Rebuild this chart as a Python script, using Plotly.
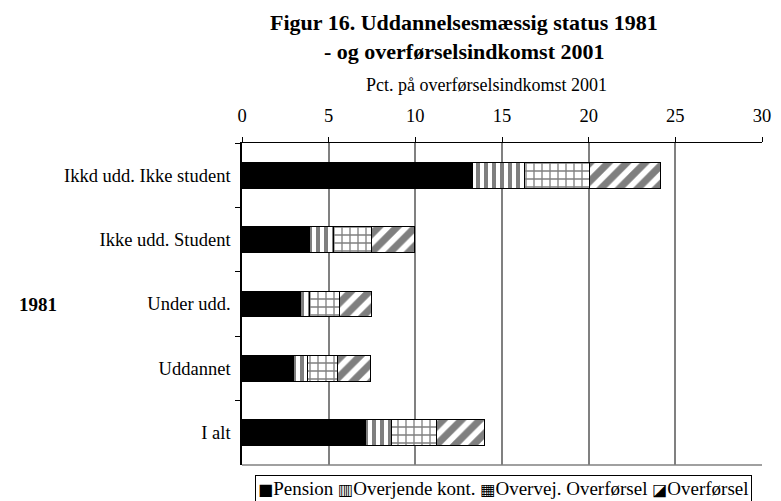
import plotly.graph_objects as go

# Data (pct. on transfer income 2001)
categories = [
    "Ikkd udd. Ikke student",
    "Ikke udd. Student",
    "Under udd.",
    "Uddannet",
    "I alt",
]
pension = [13.3, 3.9, 3.35, 2.95, 7.1]
overjende_kont = [3.0, 1.4, 0.55, 0.85, 1.55]
overvej_overfoersel = [3.75, 2.15, 1.7, 1.7, 2.55]
overfoersel = [4.1, 2.5, 1.85, 1.9, 2.8]

x_ticks = [0, 5, 10, 15, 20, 25, 30]

FONT = "Liberation Serif, Times New Roman, serif"
SYMFONT = "DejaVu Sans"

series = [
    ("Pension", "■", pension, dict(color="black")),
    ("Overjende kont.", "▥", overjende_kont,
     dict(color="white", pattern=dict(shape="|", fgcolor="black", bgcolor="white", size=8, solidity=0.5))),
    ("Overvej. Overførsel", "▦", overvej_overfoersel,
     dict(color="white", pattern=dict(shape="+", fgcolor="black", bgcolor="white", size=8, solidity=0.3))),
    ("Overførsel", "◪", overfoersel,
     dict(color="white", pattern=dict(shape="/", fgcolor="black", bgcolor="white", size=13, solidity=0.55))),
]

fig = go.Figure()
for name, _, vals, marker in series:
    fig.add_trace(
        go.Bar(
            y=categories,
            x=vals,
            name=name,
            orientation="h",
            width=0.4,
            marker=dict(**marker, line=dict(color="black", width=1)),
        )
    )

PX = 529  # plot width in px
PY = 322  # plot height in px

fig.update_layout(
    barmode="stack",
    width=781,
    height=501,
    margin=dict(l=242, r=10, t=143, b=36),
    plot_bgcolor="white",
    paper_bgcolor="white",
    font=dict(family=FONT, size=18.5, color="black"),
    showlegend=False,
    xaxis=dict(
        side="top",
        range=[0, 30],
        tickvals=x_ticks,
        showgrid=True,
        gridcolor="#808080",
        gridwidth=1.5,
        showline=True,
        linecolor="black",
        linewidth=1,
        ticks="outside",
        ticklen=5,
        tickcolor="black",
        ticklabelstandoff=8,
        zeroline=False,
        fixedrange=True,
    ),
    yaxis=dict(
        categoryorder="array",
        categoryarray=categories,
        autorange="reversed",
        showline=True,
        linecolor="black",
        linewidth=1.5,
        ticks="outside",
        tickson="boundaries",
        ticklen=5,
        tickcolor="black",
        ticklabelstandoff=6,
        showgrid=False,
        fixedrange=True,
    ),
)

# bottom border line of plot area
fig.add_shape(type="line", xref="x", yref="paper", x0=0, x1=30, y0=0, y1=0,
              line=dict(color="#808080", width=1.5))

fig.add_annotation(text="<b>Figur 16. Uddannelsesmæssig status 1981</b>",
                   xref="paper", yref="paper", x=(468 - 242) / PX, y=1 + (143 - 23) / PY,
                   showarrow=False, font=dict(size=22), xanchor="center", yanchor="middle")
fig.add_annotation(text="<b>- og overførselsindkomst 2001</b>",
                   xref="paper", yref="paper", x=(468 - 242) / PX, y=1 + (143 - 51) / PY,
                   showarrow=False, font=dict(size=22), xanchor="center", yanchor="middle")
fig.add_annotation(text="Pct. på overførselsindkomst 2001",
                   xref="paper", yref="paper", x=(491 - 242) / PX, y=1 + (143 - 85) / PY,
                   showarrow=False, font=dict(size=18), xanchor="center", yanchor="middle")
fig.add_annotation(text="<b>1981</b>",
                   xref="paper", yref="paper", x=(34 - 242) / PX, y=(465 - 304) / PY,
                   showarrow=False, font=dict(size=19), xanchor="center", yanchor="middle")

# legend drawn as a boxed line of text with pattern symbols
legend_text = " ".join(
    f"<span style='font-family:{SYMFONT};font-size:16px'>{sym}</span>{name}"
    for name, sym, _, _ in series
)
fig.add_annotation(text=legend_text,
                   xref="paper", yref="paper", x=(255 - 242) / PX, y=-(475 - 465) / PY,
                   showarrow=False, font=dict(size=19), xanchor="left", yanchor="top",
                   bordercolor="black", borderwidth=1, borderpad=2, bgcolor="white")

fig.write_html("out.html", config={"displayModeBar": False},
               post_script="document.body.style.margin='0';")
